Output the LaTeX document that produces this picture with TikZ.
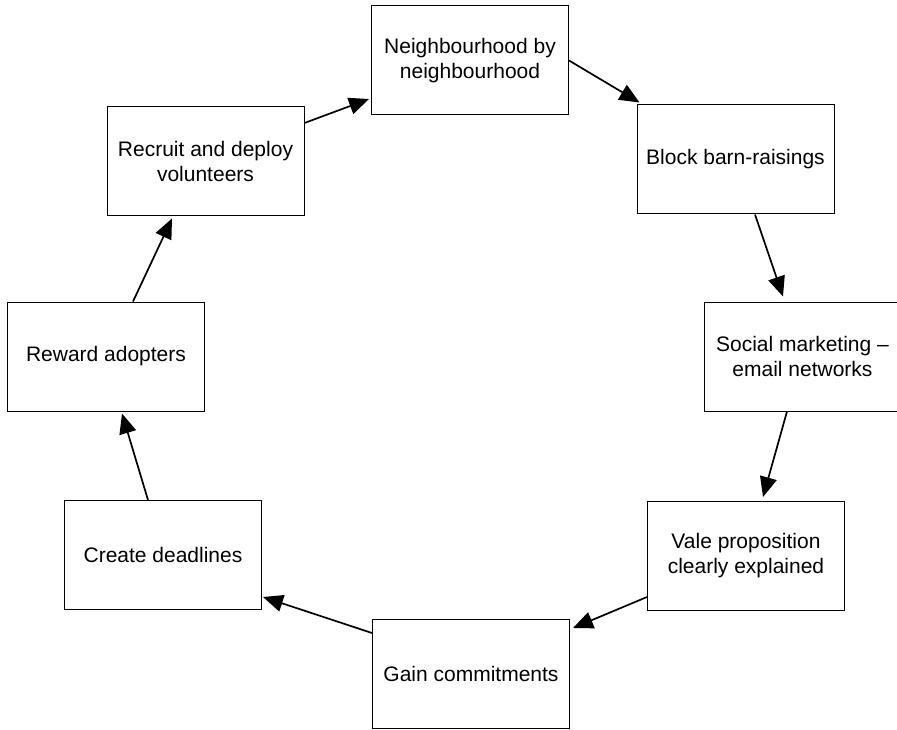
\documentclass[tikz,border=0pt]{standalone}
\usepackage{fontspec}
\setmainfont{Liberation Sans}
\usetikzlibrary{arrows.meta}
\begin{document}
\begin{tikzpicture}[x=1pt,y=-1pt,
  stepbox/.style={draw=black, line width=1pt, minimum width=197pt, minimum height=109pt,
    inner sep=0pt, align=center, font=\fontsize{21}{25}\selectfont},
  flow/.style={line width=1.7pt, -{Triangle[length=20pt,width=17pt]}}]
\useasboundingbox (0,0) rectangle (897,730);
\node[stepbox] (nb) at (470,60.5) {Neighbourhood by\\neighbourhood};
\node[stepbox] (bb) at (735.5,159.5) {Block barn-raisings};
\node[stepbox] (sm) at (802.5,356.5) {Social marketing --\\email networks};
\node[stepbox] (vp) at (746,556) {Vale proposition\\clearly explained};
\node[stepbox] (gc) at (471,674) {Gain commitments};
\node[stepbox] (cd) at (163,555) {Create deadlines};
\node[stepbox] (ra) at (106,356.5) {Reward adopters};
\node[stepbox] (rd) at (205.5,161.5) {Recruit and deploy\\volunteers};
\draw[flow] ([yshift=38.5pt]rd.east) -- ([xshift=-2pt,yshift=-38.5pt]nb.west);
\draw[flow] (nb.east) -- ([xshift=3pt,yshift=2pt]bb.north west);
\draw[flow] ([xshift=19.5pt]bb.south) -- ([xshift=-19.5pt,yshift=5pt]sm.north);
\draw[flow] ([xshift=-15.5pt]sm.south) -- ([xshift=17pt,yshift=4pt]vp.north);
\draw[flow] ([yshift=-41pt]vp.west) -- ([xshift=3pt,yshift=46pt]gc.east);
\draw[flow] ([yshift=41pt]gc.west) -- ([xshift=1pt,yshift=-42pt]cd.east);
\draw[flow] ([xshift=-15pt]cd.north) -- ([xshift=16pt,yshift=-2pt]ra.south);
\draw[flow] ([xshift=27pt]ra.north) -- ([xshift=-33.5pt,yshift=-2pt]rd.south);
\end{tikzpicture}
\end{document}
